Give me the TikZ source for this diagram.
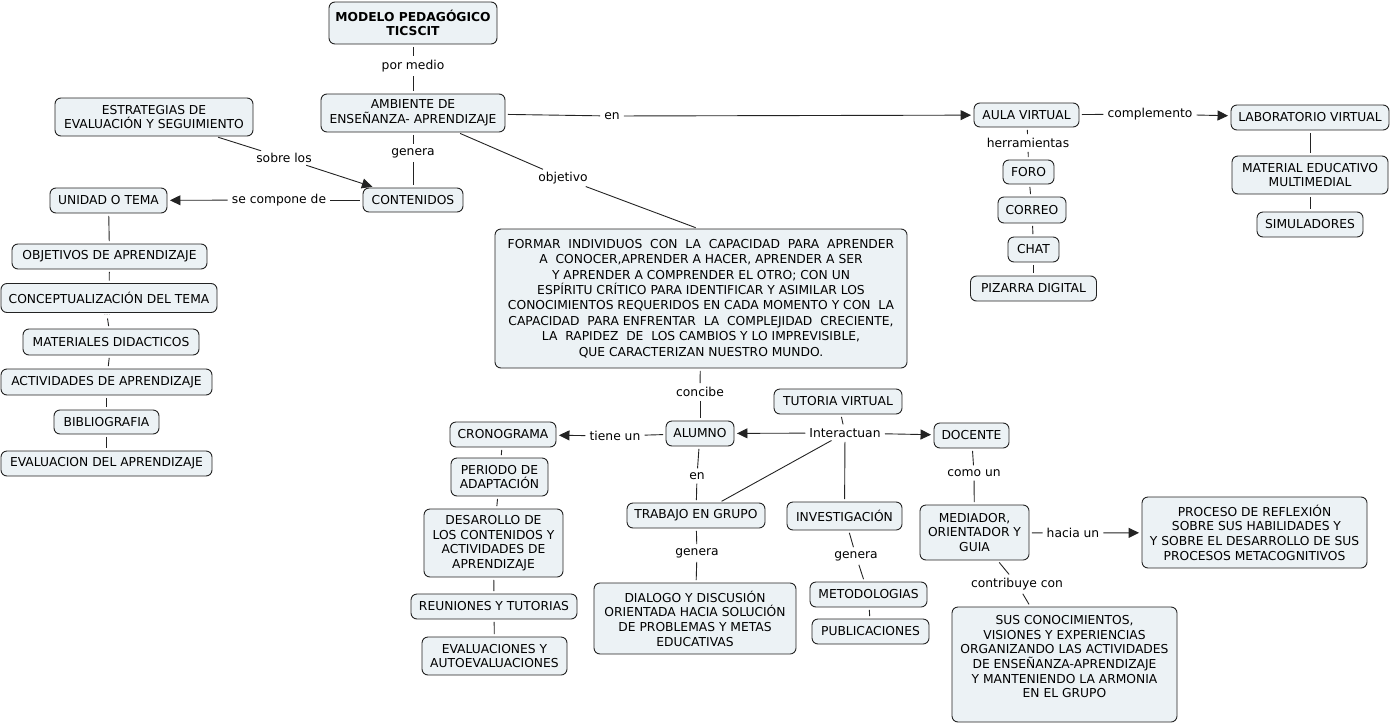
\documentclass[tikz,border=0pt]{standalone}
\usepackage{fontspec}
\setmainfont{DejaVu Sans}
\usetikzlibrary{arrows.meta}
\definecolor{boxfill}{RGB}{236,242,245}
\definecolor{edgecol}{RGB}{35,35,35}
\newcommand\bx[6]{\node[box,minimum width=#4pt,minimum height=#5pt] (#1) at (#2,#3) {#6};}
\begin{document}
\begin{tikzpicture}[x=1pt,y=-1pt,
  every node/.style={font=\fontsize{12.3}{14.6}\selectfont},
  box/.style={draw=edgecol, fill=boxfill, rounded corners=6pt, align=center, inner sep=2pt, line width=0.9pt},
  lab/.style={inner sep=1.5pt, align=center},
  con/.style={draw=edgecol, line width=0.9pt, shorten <=2.5pt, shorten >=2.5pt},
  arr/.style={con, -{Triangle[length=10.5pt,width=10pt]}}]
\useasboundingbox (0,0) rectangle (1394,723);
% boxes
\bx{modelo}{413}{23}{168}{42}{\textbf{MODELO PEDAGÓGICO}\\\textbf{TICSCIT}}
\bx{amb}{413}{113}{184}{38}{AMBIENTE DE\\ENSEÑANZA- APRENDIZAJE}
\bx{estr}{154}{117}{198}{38}{ESTRATEGIAS DE\\EVALUACIÓN Y SEGUIMIENTO}
\bx{cont}{413}{200}{100}{24}{CONTENIDOS}
\bx{unid}{108.5}{200.5}{117}{25}{UNIDAD O TEMA}
\bx{obj}{109.5}{256.5}{195}{25}{OBJETIVOS DE APRENDIZAJE}
\bx{conc}{109}{298}{216}{29}{CONCEPTUALIZACIÓN DEL TEMA}
\bx{mat}{111}{342}{176}{26}{MATERIALES DIDACTICOS}
\bx{act}{106.5}{382}{211}{26}{ACTIVIDADES DE APRENDIZAJE}
\bx{bib}{106.5}{422}{105}{24}{BIBLIOGRAFIA}
\bx{evalap}{106.5}{463.5}{211}{25}{EVALUACION DEL APRENDIZAJE}
\node[box,minimum width=412pt,minimum height=139pt,font=\fontsize{12.3}{15.4}\selectfont] (formar) at (701,298.5)
 {FORMAR\ \ INDIVIDUOS\ \ CON\ \ LA\ \ CAPACIDAD\ \ PARA\ \ APRENDER\\
  A\ \ CONOCER,APRENDER A HACER, APRENDER A SER\\
  Y APRENDER A COMPRENDER EL OTRO; CON UN\\
  ESPÍRITU CRÍTICO PARA IDENTIFICAR Y ASIMILAR LOS\\
  CONOCIMIENTOS REQUERIDOS EN CADA MOMENTO Y CON\ \ LA\\
  CAPACIDAD\ \ PARA ENFRENTAR\ \ LA\ \ COMPLEJIDAD\ \ CRECIENTE,\\
  LA\ \ RAPIDEZ\ \ DE\ \ LOS CAMBIOS Y LO IMPREVISIBLE,\\
  QUE CARACTERIZAN NUESTRO MUNDO.};
\bx{aula}{1026.5}{115}{105}{24}{AULA VIRTUAL}
\bx{lab}{1310}{117.5}{158}{25}{LABORATORIO VIRTUAL}
\bx{matedu}{1310}{175}{156}{38}{MATERIAL EDUCATIVO\\MULTIMEDIAL}
\bx{sim}{1310}{224.5}{106}{25}{SIMULADORES}
\bx{foro}{1028.5}{172}{51}{24}{FORO}
\bx{correo}{1032}{210}{68}{26}{CORREO}
\bx{chat}{1033.5}{249.5}{51}{25}{CHAT}
\bx{piz}{1033.5}{288.5}{126}{25}{PIZARRA DIGITAL}
\bx{tut}{838}{401.5}{128}{25}{TUTORIA VIRTUAL}
\bx{alum}{700}{433.5}{68}{25}{ALUMNO}
\bx{crono}{503}{434.5}{106}{25}{CRONOGRAMA}
\bx{doc}{971.5}{435.5}{75}{25}{DOCENTE}
\bx{per}{499.5}{477}{97}{38}{PERIODO DE\\ADAPTACIÓN}
\bx{des}{493.5}{543}{139}{68}{DESAROLLO DE\\LOS CONTENIDOS Y\\ACTIVIDADES DE\\APRENDIZAJE}
\bx{reu}{494}{606.5}{166}{25}{REUNIONES Y TUTORIAS}
\bx{evals}{494.5}{656}{145}{38}{EVALUACIONES Y\\AUTOEVALUACIONES}
\bx{trab}{696}{515.5}{138}{25}{TRABAJO EN GRUPO}
\bx{inv}{844.5}{516}{115}{28}{INVESTIGACIÓN}
\bx{dial}{695}{618.5}{202}{71}{DIALOGO Y DISCUSIÓN\\ORIENTADA HACIA SOLUCIÓN\\DE PROBLEMAS Y METAS\\EDUCATIVAS}
\bx{met}{868.5}{594.5}{117}{25}{METODOLOGIAS}
\bx{pub}{870.5}{631.5}{117}{25}{PUBLICACIONES}
\bx{med}{974.5}{532.5}{109}{55}{MEDIADOR,\\ORIENTADOR Y\\GUIA}
\bx{proc}{1254.5}{532.5}{225}{71}{PROCESO DE REFLEXIÓN\\\ SOBRE SUS HABILIDADES Y\\Y SOBRE EL DESARROLLO DE SUS\\PROCESOS METACOGNITIVOS}
\bx{sus}{1064.5}{664.5}{225}{115}{SUS CONOCIMIENTOS,\\VISIONES Y EXPERIENCIAS\\ORGANIZANDO LAS ACTIVIDADES\\DE ENSEÑANZA-APRENDIZAJE\\Y MANTENIENDO LA ARMONIA\\EN EL GRUPO\\[1pt]\mbox{}}
% linking phrases
\node[lab] (lpm) at (413,66) {por medio};
\node[lab] (lgen1) at (413,153) {genera};
\node[lab] (lsob) at (284,158) {sobre los};
\node[lab] (lsec) at (279,200) {se compone de};
\node[lab] (len1) at (612,116) {en};
\node[lab] (lobj) at (563,178) {objetivo};
\node[lab] (lher) at (1028,143) {herramientas};
\node[lab] (lcomp) at (1150,114) {complemento};
\node[lab,inner sep=0.5pt,text=gray,font=\fontsize{5}{5}\selectfont] (ldots) at (107,315) {....};
\node[lab] (lconc) at (700,392) {concibe};
\node[lab] (ltie) at (615,436) {tiene un};
\node[lab] (len2) at (697,476) {en};
\node[lab] (lgen2) at (697,553) {genera};
\node[lab] (lint) at (845,433) {Interactuan};
\node[lab] (lgen3) at (856,556) {genera};
\node[lab] (lcomo) at (974,473) {como un};
\node[lab] (lhac) at (1073,533) {hacia un};
\node[lab] (lcont) at (1017,584) {contribuye con};
% connectors
\draw[con] (modelo) -- (lpm); \draw[con] (lpm) -- (amb);
\draw[con] (amb) -- (lgen1); \draw[con] (lgen1) -- (cont);
\draw[con] (estr) -- (lsob); \draw[arr] (lsob) -- (cont);
\draw[con] (cont) -- (lsec); \draw[arr] (lsec) -- (unid);
\draw[con] (amb) -- (len1); \draw[arr] (len1) -- (aula);
\draw[con] (amb) -- (lobj); \draw[con] (lobj) -- ([xshift=-3pt]formar.north);
\draw[con] (aula) -- (lher); \draw[con] (lher) -- (foro);
\draw[con] (aula) -- (lcomp); \draw[arr] (lcomp) -- (lab);
\draw[con] (lab) -- (matedu); \draw[con] (matedu) -- (sim);
\draw[con] (foro) -- (correo); \draw[con] (correo) -- (chat); \draw[con] (chat) -- (piz);
\draw[con] (unid) -- (obj); \draw[con] (obj) -- (conc); \draw[con] (ldots) -- (mat);
\draw[con] (mat) -- (act); \draw[con] (act) -- (bib); \draw[con] (bib) -- (evalap);
\draw[con] (formar) -- (lconc); \draw[con] (lconc) -- (alum);
\draw[con] (alum) -- (ltie); \draw[arr] (ltie) -- (crono);
\draw[con] (crono) -- (per); \draw[con] (per) -- (des); \draw[con] (des) -- (reu); \draw[con] (reu) -- (evals);
\draw[con] (alum) -- (len2); \draw[con] (len2) -- (trab);
\draw[con] (trab) -- (lgen2); \draw[con] (lgen2) -- (dial);
\draw[con] (tut) -- (lint); \draw[arr] (lint) -- (alum); \draw[arr] (lint) -- (doc);
\draw[con] (lint) -- (trab); \draw[con] (lint) -- (inv);
\draw[con] (inv) -- (lgen3); \draw[con] (lgen3) -- (met); \draw[con] (met) -- (pub);
\draw[con] (doc) -- (lcomo); \draw[con] (lcomo) -- (med);
\draw[con] (med) -- (lhac); \draw[arr] (lhac) -- (proc);
\draw[con] (med) -- (lcont); \draw[con] (lcont) -- (sus);
\end{tikzpicture}
\end{document}
